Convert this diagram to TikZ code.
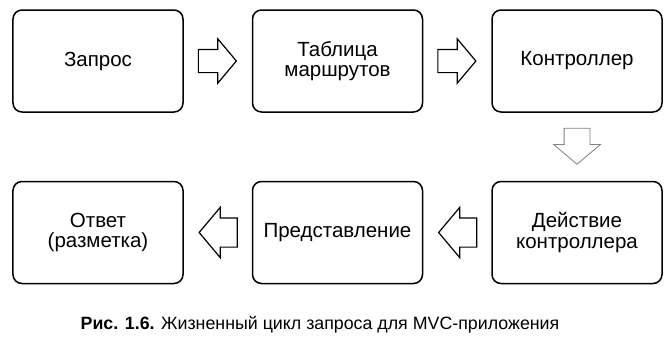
\documentclass[tikz,border=0pt]{standalone}
\usepackage{fontspec}
\setmainfont{Liberation Sans}
\usetikzlibrary{shapes,arrows,positioning}

\begin{document}
\begin{tikzpicture}[x=1bp, y=-1bp, node distance=68bp, auto,
  stage/.style={rectangle, rounded corners=9bp, draw, line width=1.5bp,
    minimum width=170bp, minimum height=102bp, align=center,
    font=\fontsize{20.5bp}{20.5bp}\selectfont},
  blockarrow/.style={single arrow, draw, line width=1.2bp,
    inner xsep=0pt, inner ysep=11bp, minimum height=38bp,
    single arrow head extend=10.5bp, single arrow tip angle=100}]
  \useasboundingbox (0,0) rectangle (669,341);
  % top row
  \node[stage] (request) at (98,61) {Запрос};
  \node[stage, right=of request] (routes) {Таблица\\маршрутов};
  \node[stage, right=of routes] (controller) {Контроллер};
  % bottom row
  \node[stage, below=of controller] (action) {Действие\\контроллера};
  \node[stage, left=of action] (view) {Представление};
  \node[stage, left=of view] (response) {Ответ\\(разметка)};
  % block arrows
  \node[blockarrow, right=14bp of request] (a1) {};
  \node[blockarrow, right=14bp of routes] (a2) {};
  \node[blockarrow, draw=gray, line width=0.8bp, inner ysep=12.5bp,
    minimum height=36bp, rotate=-90,
    below=15bp of controller, anchor=west] (a3) {};
  \node[blockarrow, inner ysep=14bp, shape border rotate=180,
    left=14bp of action] (a4) {};
  \node[blockarrow, inner ysep=14bp, shape border rotate=180,
    left=14bp of view] (a5) {};
  % caption
  \node[font=\fontsize{17.8bp}{20bp}\selectfont] (caption) at (320,325)
    {\textbf{Рис. 1.6.} Жизненный цикл запроса для MVC-приложения};
\end{tikzpicture}
\end{document}
